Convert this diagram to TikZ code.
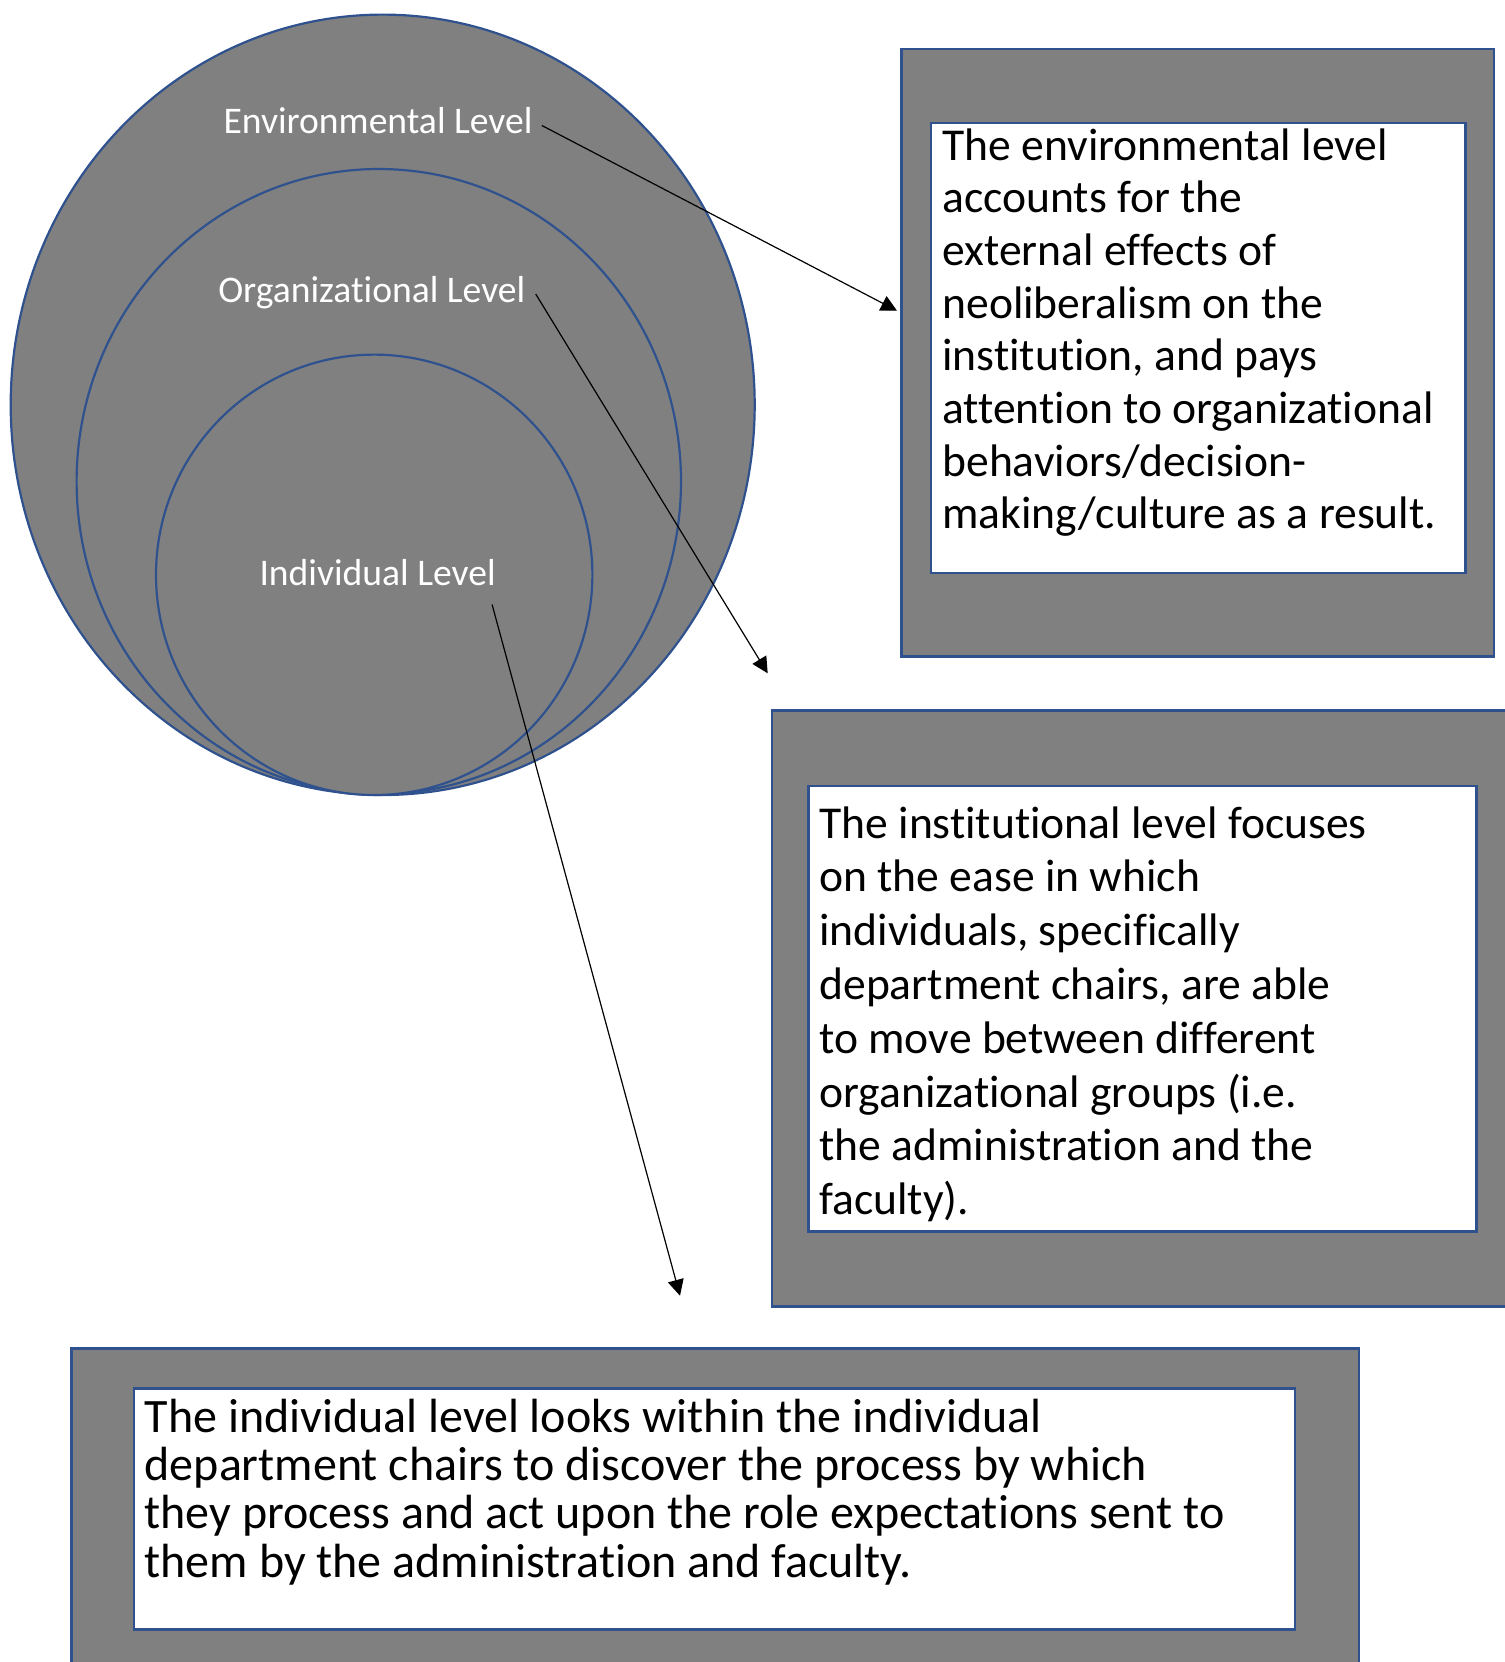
\documentclass[tikz,border=0pt]{standalone}
\usepackage{fontspec}
\setmainfont[Ligatures=NoCommon]{Carlito}
\usetikzlibrary{arrows.meta,fit}
\definecolor{wordblue}{HTML}{2F528F}
\definecolor{shade}{HTML}{808080}
\tikzset{
  ring/.style={draw=wordblue, line width=1.1pt, fill=shade},
  lvl/.style={text=white, inner sep=0pt, anchor=base, font=\fontsize{18.8}{22}\selectfont},
  panel/.style={draw=wordblue, line width=1.2pt, fill=shade, inner sep=0pt},
  card/.style={draw=wordblue, line width=1.2pt, fill=white, inner sep=0pt},
  note/.style={anchor=north west, inner sep=0pt, align=left},
  pointer/.style={-{Triangle[length=8pt,width=8pt]}, line width=0.6pt}
}
\begin{document}
\begin{tikzpicture}[x=0.5pt,y=-0.5pt]
  \useasboundingbox (0,0) rectangle (1505,1662);
  \clip (0,0) rectangle (1505,1662);
  % the three levels
  \foreach \cx/\cy/\rx/\ry in {382.7/404.8/186/195.1, 378.8/481.5/151.1/156.25, 374.2/574.8/109.1/110.1}
  {
    \draw[ring] (\cx,\cy) ellipse [x radius=\rx pt, y radius=\ry pt];
  }
  \node[lvl] (envlbl) at (378,133.4) {Environmental Level};
  \node[lvl] (orglbl) at (371.8,302.3) {Organizational Level};
  \node[lvl] (indlbl) at (377.6,585.8) {Individual Level};

  % environmental box
  \node[panel, fit={(901.6,49.2) (1494,656.5)}] (envpanel) {};
  \node[card, fit={(931,123) (1465.5,572.9)}] (envcard) {};
  \node[note, font=\fontsize{22.8}{26.35}\selectfont] (envtext) at (942,128)
    {The environmental level\\accounts for the\\external effects of\\neoliberalism on the\\institution, and pays\\attention to organizational\\behaviors/decision-\\making/culture as a result.};

  % institutional box
  \node[panel, fit={(771.9,710.4) (1515,1306.3)}] (orgpanel) {};
  \node[card, fit={(808.5,785.9) (1476.4,1231.6)}] (orgcard) {};
  \node[note, font=\fontsize{22.8}{26.9}\selectfont] (orgtext) at (819,806)
    {The institutional level focuses\\on the ease in which\\individuals, specifically\\department chairs, are able\\to move between different\\organizational groups (i.e.\\the administration and the\\faculty).};

  % individual box
  \node[panel, fit={(71.6,1348.3) (1358.8,1680)}] (indpanel) {};
  \node[card, fit={(134,1388.3) (1294.7,1629.3)}] (indcard) {};
  \node[note, font=\fontsize{24}{24.15}\selectfont] (indtext) at (144.3,1398.5)
    {The individual level looks within the individual\\department chairs to discover the process by which\\they process and act upon the role expectations sent to\\them by the administration and faculty.};

  % pointers
  \coordinate (envtip) at (897,310.7);
  \coordinate (orgtip) at (767.7,673.3);
  \coordinate (indtip) at (680,1295.7);
  \draw[pointer] ([shift={(9,5)}]envlbl.east) -- (envtip);
  \draw[pointer] ([shift={(10,1.5)}]orglbl.east) -- (orgtip);
  \draw[pointer] ([shift={(-4,18)}]indlbl.south east) -- (indtip);
\end{tikzpicture}
\end{document}
